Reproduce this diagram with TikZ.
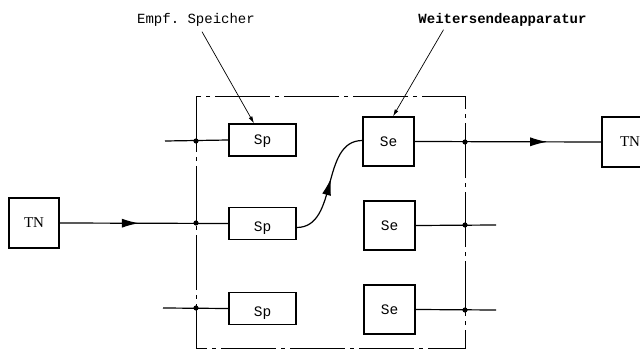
\documentclass[tikz,border=0pt]{standalone}
\usepackage{fontspec}
\setmainfont{Liberation Serif}
\setmonofont{Liberation Mono}
\usetikzlibrary{arrows.meta,decorations.markings}
\begin{document}
\begin{tikzpicture}[x=1pt,y=-1pt,
  box/.style={draw,line width=1.3pt,inner sep=0pt},
  txt/.style={font=\ttfamily\fontsize{14.5}{16}\selectfont,inner sep=0pt},
  spbox/.style={box,minimum width=67pt,minimum height=32pt},
  sebox/.style={box,minimum width=51pt,minimum height=49pt,font=\ttfamily\fontsize{14.5}{16}\selectfont},
  tnbox/.style={box,minimum width=50pt,minimum height=50pt,font=\rmfamily\fontsize{15}{17}\selectfont},
  wire/.style={line width=1.2pt},
  frame/.style={line width=1pt,dash pattern=on 55pt off 5pt on 4pt off 5pt},
  pointer/.style={line width=0.7pt,-{Latex[length=7pt,width=4pt]}},
  lbl/.style={font=\ttfamily\fontsize{14}{16}\selectfont,inner sep=1pt},
  midarrow/.style={postaction={decorate},decoration={markings,
     mark=at position #1 with {\arrow{Latex[length=17pt,width=9pt]}}}},
  dot/.style={fill=black}
]
\useasboundingbox (0,0) rectangle (640,350);
\clip (0,0) rectangle (640,350);
\fill[white] (0,0) rectangle (640,350);

% frame
\draw[frame] (196,97) rectangle (465,348);

% boxes
\node[spbox,label={[txt,yshift=-1pt]center:Sp}] (sp1) at (262.5,140) {};
\node[spbox,label={[txt,yshift=-5pt]center:Sp}] (sp2) at (262.5,223.5) {};
\node[spbox,label={[txt,yshift=-5pt]center:Sp}] (sp3) at (262.5,308.5) {};
\node[sebox] (se1) at (388.5,141.5) {Se};
\node[sebox] (se2) at (389.5,225.5) {Se};
\node[sebox] (se3) at (389.5,309.5) {Se};
\node[tnbox] (tnl) at (34,223) {TN};
\node[tnbox,minimum width=56pt] (tnr) at (630,142) {TN};

% labels
\node[lbl] (lab1) at (196,20) {Empf. Speicher};
\node[lbl,font=\ttfamily\bfseries\fontsize{14}{16}\selectfont] (lab2) at (502.5,20) {Weitersendeapparatur};

% free ends and junctions
\coordinate (a1) at (165,141);
\coordinate (a3) at (163,308);
\coordinate (b2) at (496,225);
\coordinate (b3) at (496,310);
\coordinate (j1) at (196,141);
\coordinate (j2) at (196,223);
\coordinate (j3) at (196,308);
\coordinate (k1) at (465,142);
\coordinate (k2) at (465,225);
\coordinate (k3) at (465,310);

% wires
\draw[wire] (a1) -- (sp1.west);
\draw[wire,midarrow=0.47] (tnl.east) -- (sp2.west);
\draw[wire] (a3) -- (sp3.west);
\draw[wire,midarrow=0.71] (se1.east) -- (tnr.west);
\draw[wire] (se2.east) -- (b2);
\draw[wire] (se3.east) -- (b3);
\draw[wire,midarrow=0.55] ([yshift=-4pt]sp2.east) to[out=0,in=180] ([yshift=1pt]se1.west);

% junction dots
\foreach \j in {j1,j2,j3,k1,k2,k3} \fill[dot] (\j) circle (2.6pt);

% pointers
\draw[pointer] ([xshift=6pt,yshift=-4pt]lab1.south) -- ([xshift=-8.5pt]sp1.north);
\draw[pointer] ([xshift=-59pt,yshift=-2pt]lab2.south) -- ([xshift=4.5pt]se1.north);
\end{tikzpicture}
\end{document}
